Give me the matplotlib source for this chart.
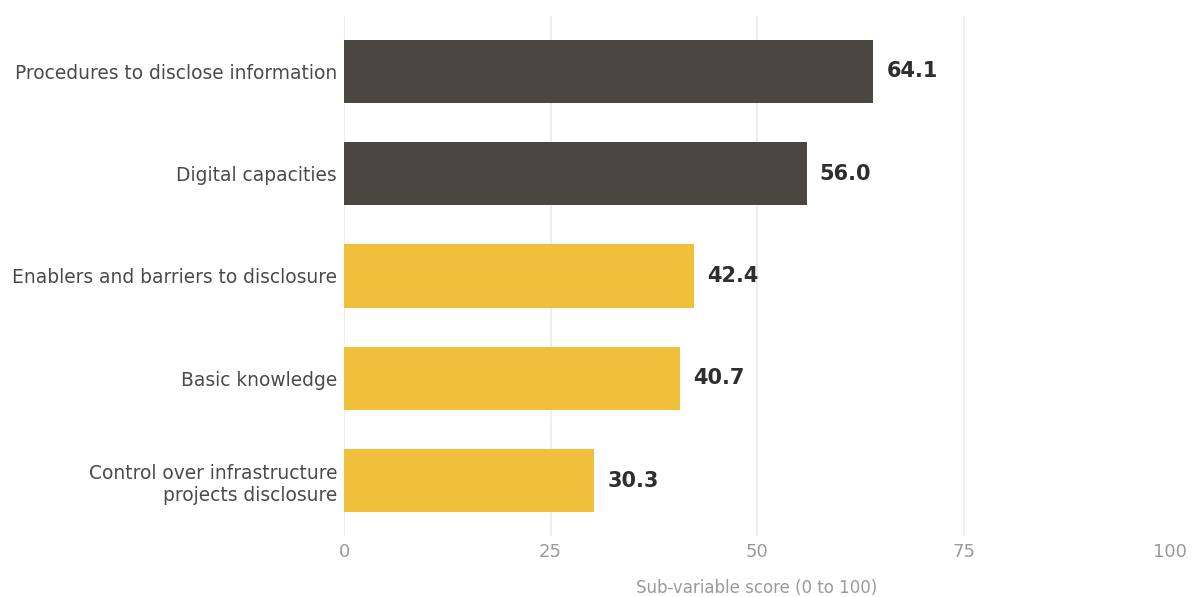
import matplotlib
matplotlib.use("Agg")
import matplotlib.pyplot as plt
from matplotlib.transforms import offset_copy

categories = [
    "Procedures to disclose information",
    "Digital capacities",
    "Enablers and barriers to disclosure",
    "Basic knowledge",
    "Control over infrastructure\nprojects disclosure",
]
scores = [64.1, 56.0, 42.4, 40.7, 30.3]
bar_colors = ["#4a4742", "#4a4742", "#f0c03c", "#f0c03c", "#f0c03c"]
x_ticks = [0, 25, 50, 75, 100]
x_label = "Sub-variable score (0 to 100)"

plt.rcParams["font.family"] = ["DejaVu Sans"]

fig = plt.figure(figsize=(11.95, 5.97), dpi=100)
W, H = 1195, 597
ax = fig.add_axes([344 / W, 1 - 536 / H, (1170 - 344) / W, (536 - 16) / H])

ypos = list(range(len(categories)))
ax.barh(ypos, scores, height=0.62, color=bar_colors, zorder=2)

ax.set_xlim(0, 100)
ax.set_ylim(len(categories) - 0.46, -0.54)

ax.set_yticks(ypos)
ax.set_yticklabels(categories, fontsize=13.45, color="#4a4a4a")
ax.set_xticks(x_ticks)
ax.set_xticklabels([str(t) for t in x_ticks], fontsize=13, color="#9a9a9a")
ax.tick_params(axis="both", length=0)
ax.tick_params(axis="y", pad=5)
ax.tick_params(axis="x", pad=5)

for s in ax.spines.values():
    s.set_visible(False)

for t in x_ticks[:-1]:
    ax.axvline(t, color="#ebebeb", linewidth=1.2, zorder=1)

for y, v in zip(ypos, scores):
    tr = offset_copy(ax.transData, fig=fig, x=13, y=0, units="dots")
    ax.text(v, y, f"{v:.1f}", transform=tr, ha="left", va="center",
            fontsize=15, fontweight="bold", color="#2e2e2e")

ax.set_xlabel(x_label, fontsize=12, color="#9a9a9a", labelpad=13)

fig.savefig("out.png", dpi=100)
